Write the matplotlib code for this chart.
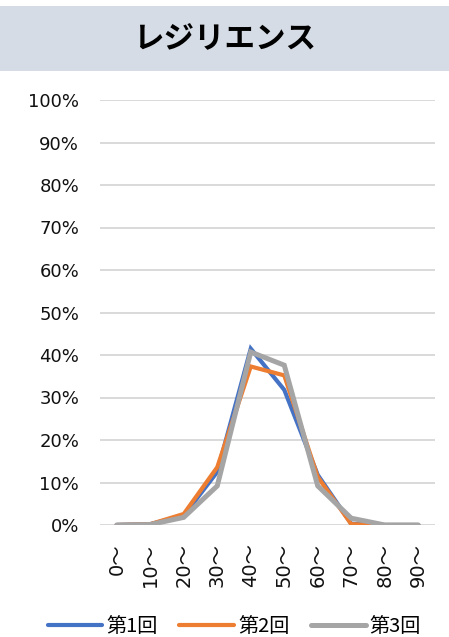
import numpy as np
import matplotlib.pyplot as plt
from matplotlib.ticker import PercentFormatter

plt.rcParams['font.family'] = ['DejaVu Sans', 'Noto Sans CJK JP']

categories = ['0～', '10～', '20～', '30～', '40～', '50～', '60～', '70～', '80～', '90～']
r1 = [0.0, 0.2, 2.2, 12.5, 41.5, 31.8, 11.8, 0.3, 0.0, 0.0]
r2 = [0.0, 0.2, 2.6, 13.6, 37.3, 35.2, 11.3, 0.2, 0.0, 0.0]
r3 = [0.0, 0.1, 1.8, 9.2, 40.7, 37.6, 9.2, 1.6, 0.0, 0.0]
names = ['第1回', '第2回', '第3回']
colors = ['#4472C4', '#ED7D31', '#A5A5A5']

fig = plt.figure(figsize=(4.49, 6.37), dpi=100)

# title band
fig.patches.append(plt.Rectangle((0, 1 - 71/637), 1, 65/637, transform=fig.transFigure,
                                 facecolor='#D6DCE5', edgecolor='none'))
fig.text(0.5, 1 - 39/637, 'レジリエンス', ha='center', va='center', fontsize=22,
         fontweight='bold', family=['Noto Sans CJK JP'])

ax = fig.add_axes([100/449, 1 - 525/637, 335/449, 425/637])
x = np.arange(len(categories))
for vals, c, n, lw in zip([r1, r2, r3], colors, names, [3.0, 3.0, 3.6]):
    ax.plot(x, vals, color=c, lw=lw, label=n, solid_capstyle='round', solid_joinstyle='miter')

ax.set_xlim(-0.5, 9.5)
ax.set_ylim(0, 100)
ax.set_yticks(np.arange(0, 101, 10))
ax.yaxis.set_major_formatter(PercentFormatter(decimals=0))
ax.set_xticks(x)
ax.set_xticklabels(categories, rotation=90, fontsize=14, family=['DejaVu Sans', 'Noto Sans CJK JP'])
for t in ax.get_yticklabels():
    t.set_family('DejaVu Sans')
ax.tick_params(axis='y', labelsize=13, length=0, pad=15, labelcolor='#111111')
ax.tick_params(axis='x', length=0, pad=13, labelcolor='#111111')
ax.grid(axis='y', color='#D9D9D9', lw=1.4)
ax.set_axisbelow(True)
for s in ax.spines.values():
    s.set_visible(False)

leg = fig.legend(loc='center', bbox_to_anchor=(0.522, 1 - 627/637), ncol=3, frameon=False,
                 handlelength=2.7, handletextpad=0.2, columnspacing=1.1,
                 prop={'family': ['Noto Sans CJK JP'], 'size': 14.5})

fig.savefig('out.png', dpi=100)
